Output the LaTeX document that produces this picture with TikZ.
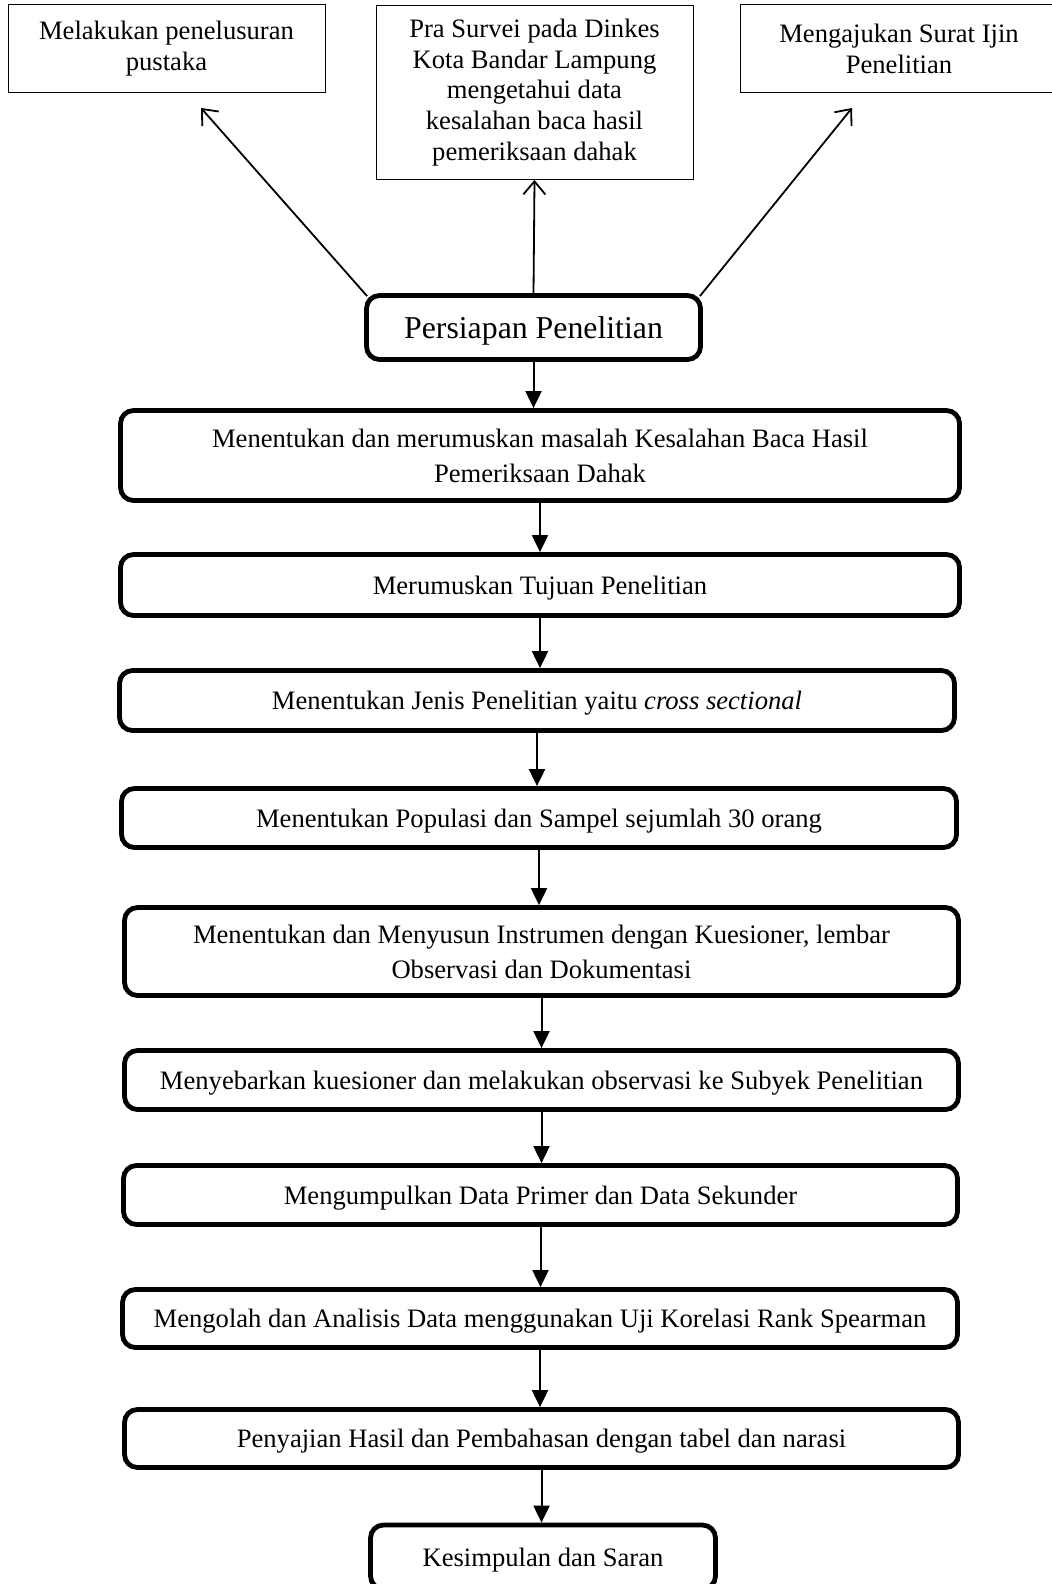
\documentclass[tikz,border=0pt]{standalone}
\usepackage{fontspec}
\setmainfont{Liberation Serif}
\usetikzlibrary{arrows.meta}
\tikzset{
    note-box/.style = {draw=black, line width=0.5pt, rectangle, align=center, inner sep=2pt, font=\fontsize{13.3}{15.4}\selectfont},
    stage-box/.style = {draw=black, line width=2.4pt, rectangle, rounded corners=6.5pt, align=center, inner sep=2pt, text depth=0pt, font=\fontsize{13.3}{17.7}\selectfont},
    stage-title/.style = {stage-box, font=\fontsize{15.9}{18}\selectfont},
    flow-arrow/.style = {line width=1pt, -{Triangle[length=8.5pt, width=8pt]}},
    branch-arrow/.style = {line width=0.9pt, -{Straight Barb[length=6.5pt, width=11pt]}},
}

\begin{document}
\begin{tikzpicture}[x=0.5pt, y=-0.5pt]
\useasboundingbox (0,0) rectangle (1052,1584);

% top row
\node [note-box, minimum width=158.5pt, minimum height=44pt] (pustaka) at (166.5,49) {Melakukan penelusuran\\pustaka};
\node [note-box, minimum width=158.5pt, minimum height=87pt] (prasurvei) at (534.5,92.5) {Pra Survei pada Dinkes\\Kota Bandar Lampung\\mengetahui data\\kesalahan baca hasil\\pemeriksaan dahak};
\node [note-box, minimum width=159pt, minimum height=44pt] (ijin) at (899,49) {Mengajukan Surat Ijin\\Penelitian};

\node [stage-title, minimum width=167pt, minimum height=32pt] (persiapan) at (533.5,327.5) {Persiapan Penelitian};

% main steps
\node [stage-box, minimum width=419.5pt, minimum height=45pt] (masalah) at (540,455.5) {Menentukan dan merumuskan masalah Kesalahan Baca Hasil\\Pemeriksaan Dahak};
\node [stage-box, minimum width=419.5pt, minimum height=30.5pt] (tujuan) at (540,585) {Merumuskan Tujuan Penelitian};
\node [stage-box, minimum width=417.5pt, minimum height=30pt] (jenis) at (537,700.5) {Menentukan Jenis Penelitian yaitu \textit{cross sectional}};
\node [stage-box, minimum width=417.5pt, minimum height=29.5pt] (populasi) at (539,818) {Menentukan Populasi dan Sampel sejumlah 30 orang};
\node [stage-box, minimum width=417pt, minimum height=44pt] (instrumen) at (541.5,951.5) {Menentukan dan Menyusun Instrumen dengan Kuesioner, lembar\\Observasi dan Dokumentasi};
\node [stage-box, minimum width=417pt, minimum height=29.5pt] (sebar) at (541.5,1080) {Menyebarkan kuesioner dan melakukan observasi ke Subyek Penelitian};
\node [stage-box, minimum width=417pt, minimum height=29.5pt] (kumpul) at (540.5,1195) {Mengumpulkan Data Primer dan Data Sekunder};
\node [stage-box, minimum width=417.5pt, minimum height=29pt] (olah) at (540,1318.5) {Mengolah dan Analisis Data menggunakan Uji Korelasi Rank Spearman};
\node [stage-box, minimum width=417pt, minimum height=29pt] (sajian) at (541.5,1438.5) {Penyajian Hasil dan Pembahasan dengan tabel dan narasi};
\node [stage-box, minimum width=172.5pt, minimum height=32pt] (simpulan) at (543,1557) {Kesimpulan dan Saran};

% branches
\coordinate (pustaka-tip) at (201,108);
\coordinate (ijin-tip) at (852,108);
\draw [branch-arrow] (persiapan.north west) ++(3,3) -- (pustaka-tip);
\draw [branch-arrow] (persiapan.north) -- (prasurvei.south);
\draw [branch-arrow] (persiapan.north east) ++(-3,3) -- (ijin-tip);

% flow
\draw [flow-arrow] (persiapan.south) -- (persiapan.south |- masalah.north);
\draw [flow-arrow] (masalah.south) -- (masalah.south |- tujuan.north);
\draw [flow-arrow] (tujuan.south) -- (tujuan.south |- jenis.north);
\draw [flow-arrow] (jenis.south) -- (jenis.south |- populasi.north);
\draw [flow-arrow] (populasi.south) -- (populasi.south |- instrumen.north);
\draw [flow-arrow] (instrumen.south) -- (instrumen.south |- sebar.north);
\draw [flow-arrow] (sebar.south) -- (sebar.south |- kumpul.north);
\draw [flow-arrow] (kumpul.south) -- (kumpul.south |- olah.north);
\draw [flow-arrow] (olah.south) -- (olah.south |- sajian.north);
\draw [flow-arrow] (sajian.south) -- (sajian.south |- simpulan.north);
\end{tikzpicture}
\end{document}
